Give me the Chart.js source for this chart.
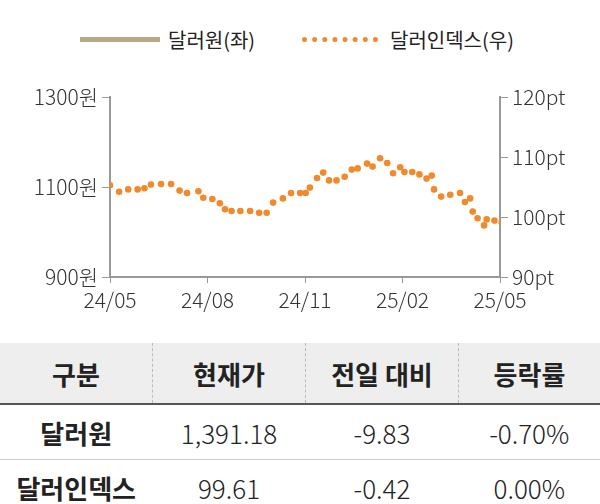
<!DOCTYPE html>
<html><head><meta charset="utf-8">
<script src="https://cdn.jsdelivr.net/npm/chart.js@4"></script>
<style>
body{margin:0;width:600px;height:504px;overflow:hidden;background:#fff;font-family:"Noto Sans CJK KR","Noto Sans",sans-serif;color:#222}
#legend{position:absolute;top:24px;left:0;width:600px;height:30px;font-size:20px}
.lg{position:absolute;top:0;display:flex;align-items:center;height:30px}
#chartBox{position:absolute;top:70px;left:0;width:600px;height:250px}
table{position:absolute;top:343px;left:0;width:600px;border-collapse:collapse;font-size:26px;text-align:center}
th{background:#eeeeee;height:58px;font-weight:700;border-bottom:2px solid #555}
th+th{border-left:1px dashed #bbb}
td{height:52px;border-bottom:1px solid #ccc;font-weight:300}
td:first-child{font-weight:700}
</style></head><body>
<div id="legend">
  <div class="lg" style="left:80px"><span style="display:inline-block;width:80px;height:5px;background:#b9a888;margin-right:8px"></span>달러원(좌)</div>
  <div class="lg" style="left:302px"><span style="display:inline-block;width:76px;border-top:5px dotted #f08a2c;margin-right:12px"></span>달러인덱스(우)</div>
</div>
<div id="chartBox"><canvas id="c"></canvas></div>
<table>
<tr><th style="width:150px">구분</th><th style="width:150px">현재가</th><th style="width:150px">전일 대비</th><th>등락률</th></tr>
<tr><td>달러원</td><td>1,391.18</td><td>-9.83</td><td>-0.70%</td></tr>
<tr><td>달러인덱스</td><td>99.61</td><td>-0.42</td><td>0.00%</td></tr>
</table>
<script>
const xLabels = ['24/05','24/08','24/11','25/02','25/05'];
const idxMonths = [0,0.28,0.56,0.85,1.06,1.26,1.57,1.88,2.14,2.37,2.72,2.87,3.15,3.38,3.54,3.74,4.01,4.31,4.59,4.82,5.02,5.32,5.57,5.85,6.02,6.15,6.37,6.56,6.74,6.97,7.22,7.44,7.62,7.91,8.08,8.31,8.53,8.71,8.93,9.06,9.30,9.52,9.74,9.90,9.97,10.19,10.47,10.77,10.92,11.08,11.16,11.31,11.51,11.59,11.83,12.05];
const idxValues = [105.3,104.2,104.6,104.6,104.8,105.4,105.5,105.5,104.4,104.0,104.3,103.2,103.0,102.3,101.3,101.0,101.0,101.0,100.7,100.7,102.4,103.1,104.0,104.0,104.0,104.9,106.5,107.4,106.1,106.1,106.7,107.9,108.1,108.9,108.4,109.8,109.0,107.3,108.3,107.5,107.5,107.1,106.4,106.9,104.6,103.4,103.7,104.0,102.5,103.1,100.9,99.8,98.6,99.6,99.4,99.1];
const wonValues = []; // 1,391원 수준: 좌축(900~1300) 범위 밖

const tickFont = { size: 21, family: 'Noto Sans CJK KR', weight: 300 };

new Chart(document.getElementById('c'), {
  type: 'scatter',
  data: {
    datasets: [
      { label: '달러원(좌)', data: wonValues, yAxisID: 'yL', showLine: true, borderColor: '#b9a888', borderWidth: 4, pointRadius: 0 },
      { label: '달러인덱스(우)', data: idxMonths.map((m, i) => ({ x: m, y: idxValues[i] })), yAxisID: 'yR',
        backgroundColor: '#f08a2c', borderColor: '#f08a2c', pointRadius: 3.3, pointBorderWidth: 0 }
    ]
  },
  options: {
    responsive: true, maintainAspectRatio: false, animation: false,
    layout: { padding: { top: 27, right: 0, left: 0, bottom: 0 } },
    plugins: { legend: { display: false }, tooltip: { enabled: false } },
    scales: {
      x: { type: 'linear', min: 0, max: 12,
        afterBuildTicks: s => { s.ticks = [0,3,6,9,12].map(v => ({ value: v })); },
        ticks: { callback: (v) => xLabels[v / 3], color: '#333', font: tickFont, maxRotation: 0, padding: 4 },
        grid: { drawOnChartArea: false, tickLength: 6, color: '#999' }, border: { color: '#999', width: 2 },
        afterFit: s => { s.height = 43; } },
      yL: { position: 'left', min: 900, max: 1300, afterBuildTicks: s => { s.ticks = [900,1100,1300].map(v => ({ value: v })); },
        ticks: { callback: v => v + '원', color: '#333', font: tickFont, padding: 4 },
        grid: { drawOnChartArea: false, tickLength: 8, color: '#999' }, border: { color: '#999', width: 2 }, afterFit: s => { s.width = 110; } },
      yR: { position: 'right', min: 90, max: 120, afterBuildTicks: s => { s.ticks = [90,100,110,120].map(v => ({ value: v })); },
        ticks: { callback: v => v + 'pt', color: '#333', font: tickFont, padding: 4 },
        grid: { drawOnChartArea: false, tickLength: 8, color: '#999' }, border: { color: '#999', width: 2 }, afterFit: s => { s.width = 100; } }
    }
  }
});
</script>
</body></html>
